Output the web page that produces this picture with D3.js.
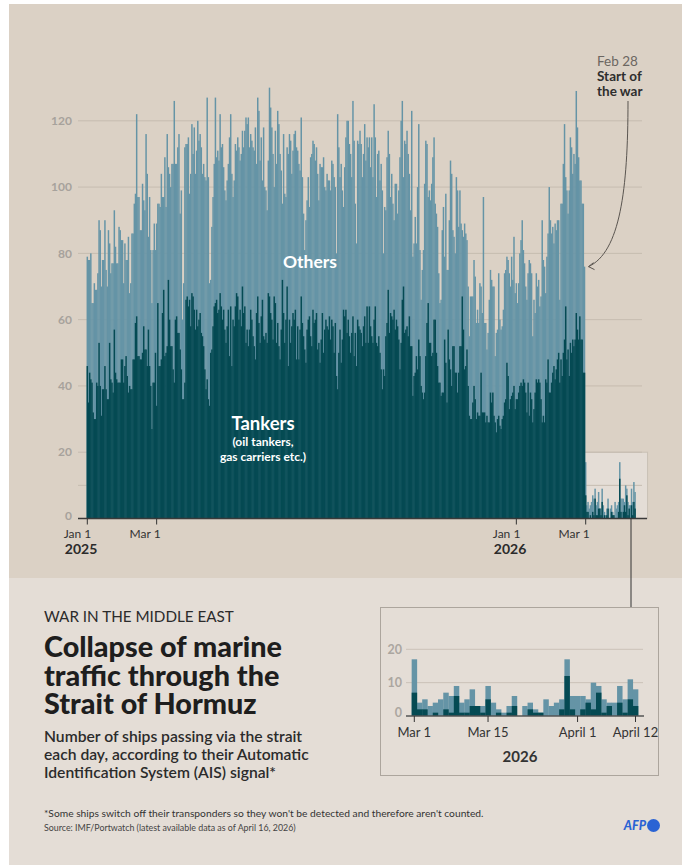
<!DOCTYPE html>
<html>
<head>
<meta charset="utf-8">
<script src="https://cdn.jsdelivr.net/npm/d3@7"></script>
<style>
  body { margin: 0; background: #fff; }
  svg { display: block; font-family: "Source Sans Pro", Lato, "Open Sans", sans-serif; }
</style>
</head>
<body>
<div id="chart"></div>
<script>
// daily ship counts, Jan 1 2025 - Feb 28 2026
const allShipsBefore = [
  79,78,78,80,65,65,71,69,69,74,90,87,70,78,78,90,75,70,87,83,74,77,77,93,82,77,77,88,87,84,
  84,71,83,78,78,85,68,71,86,86,95,98,122,97,97,87,87,101,96,93,116,104,85,97,81,65,81,89,81,89,
  95,95,94,104,97,97,109,94,116,106,104,100,107,107,126,107,107,112,116,92,99,60,71,112,113,113,115,
  98,104,119,110,118,104,111,120,114,116,112,104,107,103,102,127,103,71,72,88,
  97,107,127,109,111,108,122,112,113,106,99,96,102,107,115,122,104,97,102,113,
  111,115,112,108,110,117,112,117,121,119,121,112,116,114,112,111,118,107,127,123,
  108,115,102,118,100,99,93,108,130,124,118,110,100,117,107,123,119,110,105,95,
  116,98,97,112,110,116,114,104,111,
  116,117,112,111,107,105,121,103,92,81,90,96,103,94,109,110,114,113,108,112,
  104,96,107,106,106,109,100,99,104,102,102,99,108,107,103,100,80,122,112,103,
  107,99,94,106,115,120,120,113,110,103,126,114,95,83,114,113,117,113,103,110,
  119,108,115,112,115,106,115,103,125,115,97,110,111,102,107,99,80,94,93,109,
  117,110,97,104,95,90,101,101,92,
  99,109,120,126,103,114,113,117,110,104,93,123,79,83,91,83,100,119,81,66,
  75,81,101,114,113,97,99,96,101,109,115,95,92,88,74,65,66,87,94,79,
  98,75,75,90,108,104,87,85,80,103,99,88,99,89,87,85,89,86,84,70,
  55,67,67,67,78,73,59,63,59,71,70,62,97,59,59,51,56,66,75,72,
  70,70,49,56,57,74,60,57,58,
  63,74,75,79,78,74,70,79,72,85,68,71,65,71,80,84,90,81,77,70,
  66,74,78,77,74,55,66,62,74,70,72,64,67,90,78,76,68,79,86,100,
  90,86,88,83,89,87,90,90,66,95,95,107,119,103,99,92,99,115,112,104,
  110,107,129,118,109,102,102,95,95,76
];
const tankersBefore = [
  46,35,44,42,41,32,30,30,41,40,53,40,31,39,39,46,39,36,36,53,42,41,38,57,44,42,41,41,41,48,
  48,41,46,49,43,38,40,39,39,48,48,59,61,49,49,48,48,50,58,51,51,46,57,46,40,27,41,41,50,34,
  65,46,46,48,62,69,49,50,52,72,60,52,52,45,41,60,61,56,56,51,45,36,36,41,66,67,64,
  66,58,68,67,63,57,63,58,60,62,56,55,52,45,39,42,36,34,50,51,
  58,64,65,66,62,63,68,64,60,63,57,53,58,63,49,64,46,60,58,64,
  68,67,60,63,58,70,62,64,53,57,52,57,63,60,55,52,48,62,67,59,
  53,61,66,55,54,56,53,68,67,62,60,54,67,65,53,59,52,48,57,72,
  62,53,60,70,46,60,53,58,62,
  60,63,48,58,48,57,67,59,55,51,47,57,60,61,55,52,63,59,60,62,
  51,53,47,54,62,50,57,60,58,57,61,54,60,58,50,59,43,39,50,57,
  47,54,63,61,63,56,60,55,50,56,61,49,56,46,60,58,57,56,52,58,
  61,53,64,53,64,58,55,53,60,64,53,52,55,50,45,39,45,43,55,59,
  69,56,62,61,60,63,57,60,58,
  54,45,53,66,70,56,57,58,55,61,52,52,37,43,44,49,45,54,49,40,
  38,36,38,49,59,65,53,53,49,50,60,60,50,46,41,41,37,38,38,54,
  47,35,57,48,45,40,52,52,44,44,38,44,52,52,67,57,45,46,51,40,
  31,30,30,35,40,36,30,32,31,31,44,32,32,32,29,31,29,29,38,35,
  38,31,29,26,30,31,28,27,30,
  31,35,36,47,43,33,36,37,38,40,33,36,36,38,40,41,40,42,41,38,
  32,41,31,38,36,29,33,38,42,41,42,41,36,29,31,29,42,41,48,38,
  38,41,44,46,42,45,48,50,41,48,43,50,54,64,48,51,43,53,50,54,
  52,54,62,57,54,61,54,54,44,44
];
// Mar 1 - Apr 12 2026
const allShipsAfter = [17,4,5,3,4,5,7,6,9,4,5,8,3,3,9,4,2,1,3,6,0,3,4,2,1,5,3,4,5,17,6,6,6,5,10,9,5,4,4,9,5,11,8];
const tankersAfter  = [7,2,2,0,1,0,2,1,6,1,1,3,3,1,5,0,1,0,1,3,0,0,2,1,1,0,0,0,2,12,2,0,2,4,2,7,1,3,0,4,1,5,3];

const yTicks = [0, 20, 40, 60, 80, 100, 120];
const yGridOnly = [10];
const mainTicks = [
  {date: "2025-01-01", label: "Jan 1", year: "2025"},
  {date: "2025-03-01", label: "Mar 1", year: ""},
  {date: "2026-01-01", label: "Jan 1", year: "2026"},
  {date: "2026-03-01", label: "Mar 1", year: ""}
];
const insetYTicks = [0, 10, 20];
const insetTicks = [
  {date: "2026-03-01", label: "Mar 1"},
  {date: "2026-03-15", label: "Mar 15"},
  {date: "2026-04-01", label: "April 1"},
  {date: "2026-04-12", label: "April 12"}
];

const W = 682, H = 866;
const cTanker = "#054a53", cOther = "#6594a6";
const parse = d3.utcParse("%Y-%m-%d");
const start = parse("2025-01-01"), warDay = parse("2026-03-01"), lastDay = parse("2026-04-12");

const days = allShipsBefore.map((v, i) => ({date: d3.utcDay.offset(start, i), all: v, tankers: tankersBefore[i]}))
  .concat(allShipsAfter.map((v, i) => ({date: d3.utcDay.offset(warDay, i), all: v, tankers: tankersAfter[i]})));
const afterDays = days.filter(d => d.date >= warDay);

const svg = d3.select("#chart").append("svg").attr("width", W).attr("height", H);

// card backgrounds
svg.append("rect").attr("x", 9).attr("y", 4).attr("width", W - 9).attr("height", 861).attr("fill", "#dbd1c5");
svg.append("rect").attr("x", 9).attr("y", 578).attr("width", W - 9).attr("height", 287).attr("fill", "#e4ddd6");

// ---- main chart
const x = d3.scaleUtc().domain([start, warDay]).range([87.3, 585.7]);
const y = d3.scaleLinear().domain([0, 120]).range([518.5, 120.8]);
const bw = x(d3.utcDay.offset(start, 1)) - x(start);

// zoom box around the post-war bars
svg.append("rect")
  .attr("x", x(parse("2026-02-28")) - 1.5).attr("y", y(20))
  .attr("width", x(lastDay) + 12.5 - (x(parse("2026-02-28")) - 1.5))
  .attr("height", y(0) - y(20))
  .attr("fill", "#e4ddd6").attr("stroke", "#c9c0b6");

const grid = svg.append("g");
grid.selectAll("line").data(yTicks.concat(yGridOnly).filter(d => d > 0)).join("line")
  .attr("x1", 78).attr("x2", 642)
  .attr("y1", d => y(d)).attr("y2", d => y(d))
  .attr("stroke", "#c6bcb0").attr("stroke-width", 1);
grid.selectAll("text").data(yTicks).join("text")
  .attr("x", 72).attr("y", d => y(d) - (d === 0 ? 3 : 0)).attr("dy", "0.35em")
  .attr("text-anchor", "end").attr("font-size", 12).attr("font-weight", 700)
  .attr("fill", "#a7a29c").text(d => d);

const bars = svg.append("g");
bars.selectAll("rect.all").data(days).join("rect").attr("class", "all")
  .attr("x", d => x(d.date) - bw / 2 - 0.15).attr("width", bw + 0.3)
  .attr("y", d => y(d.all)).attr("height", d => y(0) - y(d.all))
  .attr("fill", cOther);
bars.selectAll("rect.tk").data(days).join("rect").attr("class", "tk")
  .attr("x", d => x(d.date) - bw / 2 - 0.15).attr("width", bw + 0.3)
  .attr("y", d => y(d.tankers)).attr("height", d => y(0) - y(d.tankers))
  .attr("fill", cTanker);

// x axis
svg.append("line").attr("x1", 78).attr("x2", 647).attr("y1", y(0)).attr("y2", y(0))
  .attr("stroke", "#3a3a3a").attr("stroke-width", 1.3);
const xt = svg.append("g").selectAll("g").data(mainTicks).join("g")
  .attr("transform", d => `translate(${x(parse(d.date))},0)`);
xt.append("line").attr("y1", y(0)).attr("y2", y(0) + 6).attr("stroke", "#333");
xt.append("text").attr("x", 4).attr("y", 538).attr("text-anchor", "end")
  .attr("font-size", 12).attr("fill", "#333").text(d => d.label);
xt.append("text").attr("x", 10).attr("y", 554).attr("text-anchor", "end")
  .attr("font-size", 14).attr("font-weight", 700).attr("fill", "#2b2b2b").text(d => d.year);

// connector down to the inset
svg.append("line").attr("x1", 631).attr("x2", 631).attr("y1", y(0)).attr("y2", 607.5)
  .attr("stroke", "#333").attr("stroke-width", 1);

// series labels
const lbl = svg.append("g").attr("fill", "#fff").attr("font-weight", 700).attr("text-anchor", "middle");
lbl.append("text").attr("x", 310).attr("y", 268).attr("font-size", 17.5).text("Others");
const tkLabel = lbl.append("text").attr("x", 263).attr("y", 430).attr("font-size", 18.5);
tkLabel.append("tspan").text("Tankers");
tkLabel.append("tspan").attr("x", 263).attr("dy", 15.5).attr("font-size", 12).text("(oil tankers,");
tkLabel.append("tspan").attr("x", 263).attr("dy", 15).attr("font-size", 12).text("gas carriers etc.)");

// annotation
const ann = svg.append("g").attr("font-size", 13.5);
ann.append("text").attr("x", 597).attr("y", 66).attr("fill", "#6b6661").text("Feb 28");
const annB = ann.append("text").attr("x", 597).attr("y", 81).attr("fill", "#2e2e2e").attr("font-weight", 700);
annB.append("tspan").text("Start of");
annB.append("tspan").attr("x", 597).attr("dy", 14.5).text("the war");
const ax = x(parse("2026-02-28")) + 4, ay = y(allShipsBefore[allShipsBefore.length - 1]);
svg.append("path")
  .attr("d", `M628,101 C628,190 620,252 ${ax},${ay}`)
  .attr("fill", "none").attr("stroke", "#5a5550").attr("stroke-width", 1);
svg.append("path")
  .attr("d", `M${ax + 5},${ay - 4} L${ax},${ay} L${ax + 6},${ay + 3}`)
  .attr("fill", "none").attr("stroke", "#5a5550").attr("stroke-width", 1);

// ---- inset
svg.append("rect").attr("x", 380.5).attr("y", 607.5).attr("width", 278).attr("height", 168)
  .attr("fill", "none").attr("stroke", "#aca59d");
const ix = d3.scaleUtc().domain([warDay, lastDay]).range([414.3, 635.5]);
const iy = d3.scaleLinear().domain([0, 20]).range([716, 649.3]);
const ibw = ix(d3.utcDay.offset(warDay, 1)) - ix(warDay);
const ig = svg.append("g");
ig.selectAll("line").data(insetYTicks.filter(d => d > 0)).join("line")
  .attr("x1", 406).attr("x2", 643).attr("y1", d => iy(d)).attr("y2", d => iy(d))
  .attr("stroke", "#cbc2b8");
ig.selectAll("text").data(insetYTicks).join("text")
  .attr("x", 402).attr("y", d => iy(d) - (d === 0 ? 3 : 0)).attr("dy", "0.35em")
  .attr("text-anchor", "end").attr("font-size", 12.5).attr("font-weight", 700)
  .attr("fill", "#aba6a0").text(d => d);
ig.selectAll("rect.all").data(afterDays).join("rect").attr("class", "all")
  .attr("x", d => ix(d.date) - ibw / 2).attr("width", ibw + 0.2)
  .attr("y", d => iy(d.all)).attr("height", d => iy(0) - iy(d.all)).attr("fill", cOther);
ig.selectAll("rect.tk").data(afterDays).join("rect").attr("class", "tk")
  .attr("x", d => ix(d.date) - ibw / 2).attr("width", ibw + 0.2)
  .attr("y", d => iy(d.tankers)).attr("height", d => iy(0) - iy(d.tankers)).attr("fill", cTanker);
svg.append("line").attr("x1", 406).attr("x2", 644).attr("y1", iy(0)).attr("y2", iy(0))
  .attr("stroke", "#555").attr("stroke-width", 1.5);
const it = svg.append("g").selectAll("g").data(insetTicks).join("g")
  .attr("transform", d => `translate(${ix(parse(d.date))},0)`);
it.append("line").attr("y1", iy(0)).attr("y2", iy(0) + 6).attr("stroke", "#333");
it.append("text").attr("y", 737).attr("text-anchor", "middle").attr("font-size", 13)
  .attr("fill", "#333").text(d => d.label);
svg.append("text").attr("x", 520).attr("y", 762).attr("text-anchor", "middle")
  .attr("font-size", 15).attr("font-weight", 700).attr("fill", "#333").text("2026");

// ---- headings
function fitWidth(sel, target) {
  const w = d3.max(sel.selectAll("tspan").nodes(), n => n.getComputedTextLength());
  sel.attr("font-size", parseFloat(sel.attr("font-size")) * target / w);
}
function lines(el, arr, lh) {
  arr.forEach((t, i) => el.append("tspan").attr("x", el.attr("x")).attr("dy", i ? lh : 0).text(t));
  return el;
}
const kicker = svg.append("text").attr("x", 44).attr("y", 622).attr("font-size", 17).attr("fill", "#2b2b2b");
lines(kicker, ["WAR IN THE MIDDLE EAST"], 0);
fitWidth(kicker, 190);
const title = svg.append("text").attr("x", 44).attr("y", 657).attr("font-size", 28)
  .attr("font-weight", 900).attr("fill", "#1e1e1e");
lines(title, ["Collapse of marine", "traffic through the", "Strait of Hormuz"], 28.5);
fitWidth(title, 238);
const sub = svg.append("text").attr("x", 44).attr("y", 742).attr("font-size", 15)
  .attr("font-weight", 600).attr("fill", "#2b2b2b");
lines(sub, ["Number of ships passing via the strait", "each day, according to their Automatic", "Identification System (AIS) signal*"], 18);
fitWidth(sub, 265);

const note = svg.append("text").attr("x", 44).attr("y", 817).attr("font-size", 11).attr("fill", "#333");
lines(note, ["*Some ships switch off their transponders so they won't be detected and therefore aren't counted."], 0);
fitWidth(note, 440);
const src = svg.append("text").attr("x", 44).attr("y", 831).attr("font-size", 9.5).attr("fill", "#444");
lines(src, ["Source: IMF/Portwatch (latest available data as of April 16, 2026)"], 0);
fitWidth(src, 252);

// AFP logo
svg.append("text").attr("x", 646).attr("y", 830).attr("text-anchor", "end")
  .attr("font-size", 12.5).attr("font-weight", 900).attr("font-style", "italic")
  .attr("fill", "#2a63d4").text("AFP");
svg.append("circle").attr("cx", 653.5).attr("cy", 825.5).attr("r", 6.5).attr("fill", "#2a63d4");
</script>
</body>
</html>
